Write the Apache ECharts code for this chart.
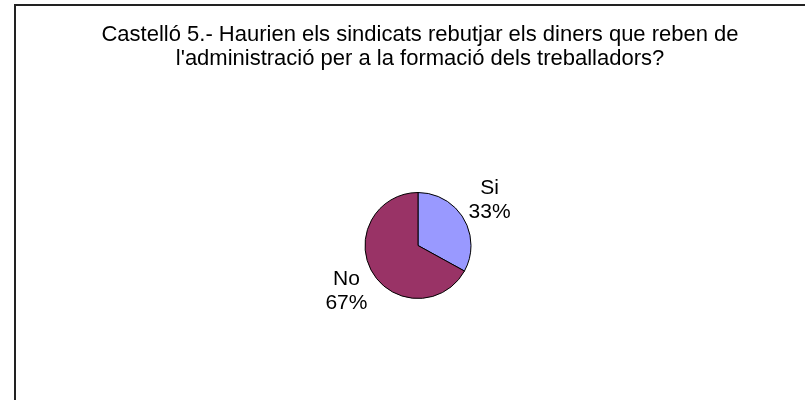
<!DOCTYPE html>
<html>
<head>
<meta charset="utf-8">
<script src="https://cdn.jsdelivr.net/npm/echarts@6/dist/echarts.min.js"></script>
<style>
  html, body { margin: 0; padding: 0; background: #fff; }
  #chart { width: 805px; height: 400px; }
</style>
</head>
<body>
<div id="chart"></div>
<script>
// answers and their shares (percent)
var answers = ['Si', 'No'];
var shares = [33, 67];
var sliceColors = ['#9999FF', '#993366'];
var chartTitle = "Castelló 5.- Haurien els sindicats rebutjar els diners que reben de\nl'administració per a la formació dels treballadors?";

var myChart = echarts.init(document.getElementById('chart'));

var pieData = answers.map(function (name, i) {
    return { name: name, value: shares[i], itemStyle: { color: sliceColors[i] } };
});

var option = {
    backgroundColor: '#fff',
    animation: false,
    title: {
        text: chartTitle,
        left: 415,
        top: 18,
        textAlign: 'center',
        textStyle: {
            fontFamily: 'Liberation Sans, Arial, sans-serif',
            fontSize: 22,
            fontWeight: 'normal',
            color: '#000',
            lineHeight: 24
        }
    },
    graphic: [{
        type: 'rect',
        shape: { x: 15, y: 5, width: 900, height: 600 },
        style: { fill: 'none', stroke: '#222', lineWidth: 2 },
        silent: true
    }],
    series: [{
        type: 'pie',
        center: [418, 245.5],
        radius: 53,
        startAngle: 90,
        clockwise: true,
        avoidLabelOverlap: false,
        itemStyle: { borderColor: '#000', borderWidth: 1 },
        label: {
            position: 'outside',
            formatter: '{t|{b}}\n{t|{d}%}',
            rich: {
                t: {
                    width: 44,
                    align: 'center',
                    fontFamily: 'Liberation Sans, Arial, sans-serif',
                    fontSize: 21,
                    lineHeight: 24,
                    color: '#000'
                }
            }
        },
        labelLine: { show: false, length: 36, length2: -32 },
        emphasis: { disabled: true },
        data: pieData
    }]
};

myChart.setOption(option);
</script>
</body>
</html>
